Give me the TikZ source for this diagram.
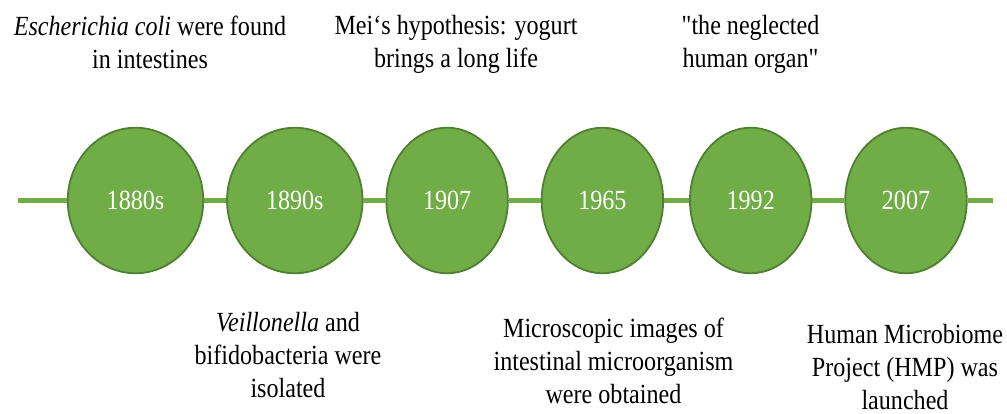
\documentclass[tikz,border=0pt]{standalone}
\usepackage{fontspec}
\setmainfont[FakeStretch=0.87,Ligatures=TeXOff]{Liberation Serif}
\usepackage{tikz}
\usetikzlibrary{positioning,shapes.geometric}
\definecolor{leafc}{RGB}{112,173,71}
\definecolor{rimc}{RGB}{80,126,50}
\newcommand{\evfont}{\fontsize{27.7}{33}\selectfont}
\tikzset{
  yr/.style={ellipse,draw=rimc,line width=1.8pt,fill=leafc,minimum height=145.5pt,inner sep=0pt,text=white,font=\evfont},
  ev/.style={align=center,inner sep=0pt,anchor=north,font=\evfont},
  tl/.style={line width=4.3pt,leafc},
}
\begin{document}
\begin{tikzpicture}[x=1pt,y=-1pt]
  \useasboundingbox (0,0) rectangle (1007,414);
  \node[yr,minimum width=135.5pt] (y1880) at (135.5,200.5) {1880s};
  \node[yr,minimum width=135.5pt,right=22pt of y1880] (y1890) {1890s};
  \node[yr,minimum width=121.5pt,right=22pt of y1890] (y1907) {1907};
  \node[yr,minimum width=121.5pt,right=32pt of y1907] (y1965) {1965};
  \node[yr,minimum width=121.5pt,right=25pt of y1965] (y1992) {1992};
  \node[yr,minimum width=121.5pt,right=32pt of y1992] (y2007) {2007};
  \coordinate (tl0) at (18,200.5);
  \coordinate (tl1) at (993,200.5);
  \draw[tl] (tl0) -- (y1880);
  \draw[tl] (y1880) -- (y1890);
  \draw[tl] (y1890) -- (y1907);
  \draw[tl] (y1907) -- (y1965);
  \draw[tl] (y1965) -- (y1992);
  \draw[tl] (y1992) -- (y2007);
  \draw[tl] (y2007) -- (tl1);
  \node[ev] (t1880) at (150,16) {\textit{Escherichia coli} were found\\in intestines};
  \node[ev] (t1907) at (456,15) {Mei‘s hypothesis: yogurt\\brings a long life};
  \node[ev] (t1992) at (750.5,15) {"the neglected\\human organ"};
  \node[ev] (t1890) at (288,312) {\textit{Veillonella} and\\bifidobacteria were\\isolated};
  \node[ev] (t1965) at (613.5,318) {Microscopic images of\\intestinal microorganism\\were obtained};
  \node[ev] (t2007) at (905,324) {Human Microbiome\\Project (HMP) was\\launched};
\end{tikzpicture}
\end{document}
